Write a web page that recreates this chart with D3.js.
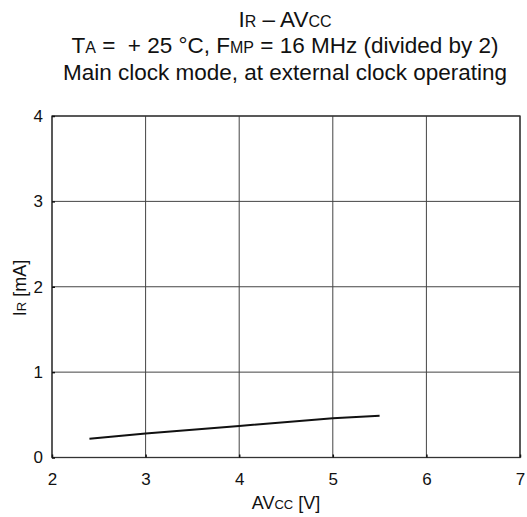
<!DOCTYPE html>
<html><head><meta charset="utf-8">
<script src="https://cdn.jsdelivr.net/npm/d3@7"></script>
<style>body{margin:0;background:#fff}svg{display:block;font-family:"Liberation Sans",Arial,sans-serif}</style>
</head><body>
<svg id="c" width="527" height="517"></svg>
<script>
const voltage = [2.4, 3, 4, 5, 5.5];
const current = [0.22, 0.28, 0.37, 0.46, 0.49];
const xTicks = [2, 3, 4, 5, 6, 7];
const yTicks = [0, 1, 2, 3, 4];

const svg = d3.select("#c");
const L = 52, R = 520, T = 116, B = 457.5;
const x = d3.scaleLinear().domain([2, 7]).range([L, R]);
const y = d3.scaleLinear().domain([0, 4]).range([B, T]);

// grid
svg.append("g").selectAll("line").data(xTicks).join("line")
  .attr("x1", d => x(d)).attr("x2", d => x(d)).attr("y1", T).attr("y2", B)
  .attr("stroke", "#444").attr("stroke-width", 1);
svg.append("g").selectAll("line").data(yTicks).join("line")
  .attr("y1", d => y(d)).attr("y2", d => y(d)).attr("x1", L).attr("x2", R)
  .attr("stroke", "#444").attr("stroke-width", 1);
// frame
svg.append("rect").attr("x", L).attr("y", T).attr("width", R - L).attr("height", B - T)
  .attr("fill", "none").attr("stroke", "#333").attr("stroke-width", 1.3);

// axes
const xa = svg.append("g").attr("transform", `translate(0,${B})`)
  .call(d3.axisBottom(x).tickValues(xTicks).tickFormat(d3.format("d")).tickSize(-3).tickPadding(15));
const ya = svg.append("g").attr("transform", `translate(${L},0)`)
  .call(d3.axisLeft(y).tickValues(yTicks).tickFormat(d3.format("d")).tickSize(-3).tickPadding(9));
[xa, ya].forEach(a => {
  a.select(".domain").remove();
  a.selectAll(".tick line").attr("stroke", "#111").attr("stroke-width", 1.5);
  a.selectAll("text").attr("font-size", 17).attr("fill", "#111")
   .attr("font-family", '"Liberation Sans",Arial,sans-serif');
});

// data line
svg.append("path").datum(voltage.map((v, i) => [v, current[i]]))
  .attr("d", d3.line().x(d => x(d[0])).y(d => y(d[1])))
  .attr("fill", "none").attr("stroke", "#111").attr("stroke-width", 2);

// labels
const xl = svg.append("text").attr("x", (L + R) / 2).attr("y", 509).attr("text-anchor", "middle")
  .attr("font-size", 18).attr("fill", "#111");
xl.append("tspan").text("AV");
xl.append("tspan").attr("font-size", 13).text("CC");
xl.append("tspan").text(" [V]");

const yl = svg.append("text").attr("transform", "translate(25.5,288) rotate(-90)")
  .attr("text-anchor", "middle").attr("font-size", 18).attr("fill", "#111");
yl.append("tspan").text("I");
yl.append("tspan").attr("font-size", 13).text("R");
yl.append("tspan").text(" [mA]");

// titles
const t1 = svg.append("text").attr("x", 285).attr("y", 27).attr("text-anchor", "middle")
  .attr("font-size", 22.5).attr("fill", "#111");
t1.append("tspan").text("I");
t1.append("tspan").attr("font-size", 16).text("R");
t1.append("tspan").text(" \u2013 AV");
t1.append("tspan").attr("font-size", 16).text("CC");

const t2 = svg.append("text").attr("x", 285).attr("y", 53).attr("text-anchor", "middle")
  .attr("font-size", 22.5).attr("fill", "#111").style("white-space", "pre");
t2.append("tspan").text("T");
t2.append("tspan").attr("font-size", 16).text("A");
t2.append("tspan").text(" =\u00A0 + 25 \u00B0C, F");
t2.append("tspan").attr("font-size", 16).text("MP");
t2.append("tspan").text(" = 16 MHz (divided by 2)");

svg.append("text").attr("x", 285).attr("y", 80).attr("text-anchor", "middle")
  .attr("font-size", 22.5).attr("fill", "#111").text("Main clock mode, at external clock operating");
</script>
</body></html>
